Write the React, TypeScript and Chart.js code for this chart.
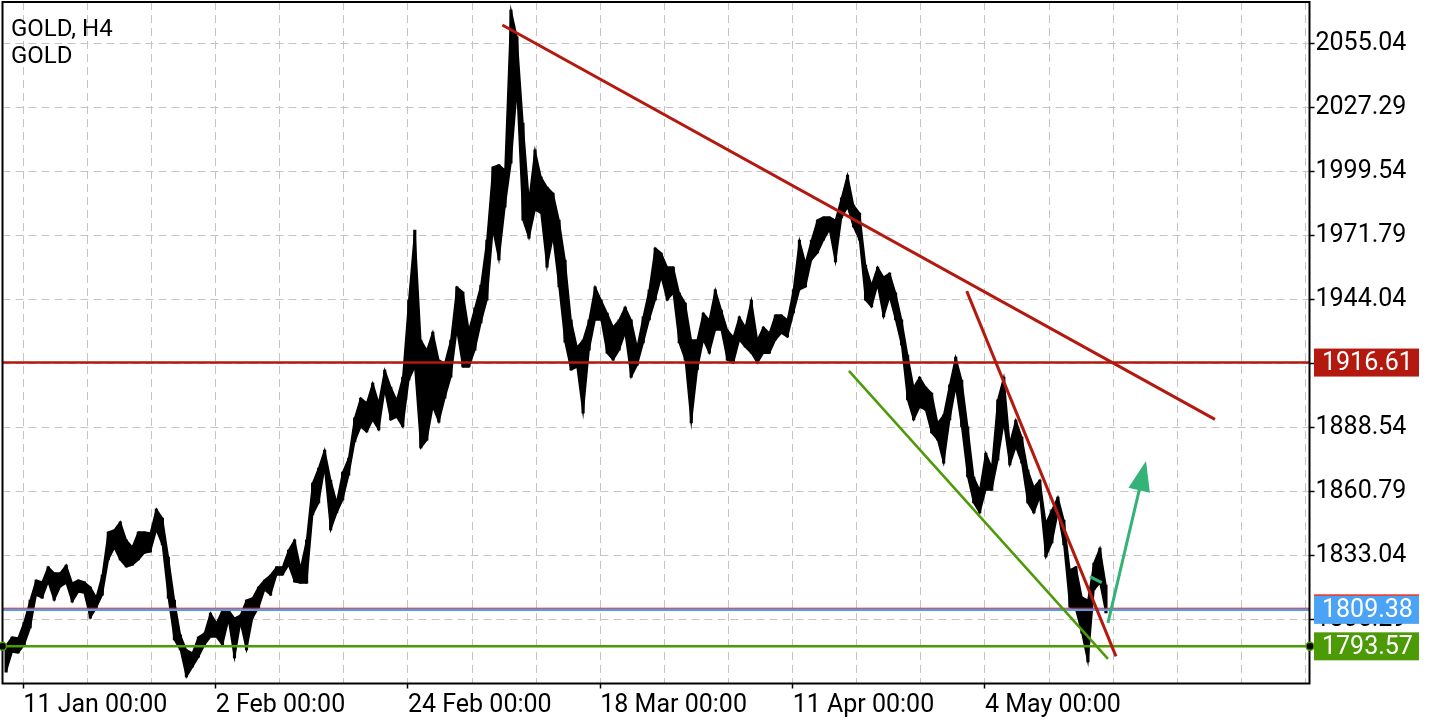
import React, { useEffect, useRef } from 'react';
import { Chart, registerables } from 'chart.js';

Chart.register(...registerables);

// ---------- DATA ----------
const symbolTitle = 'GOLD, H4';
const symbolName = 'GOLD';

// bar index 0 = "11 Jan 00:00"; each sample groups 3 H4 bars
const firstSampleBar = -8.6;
const barsPerSample = 3;

const highs = [
  1794.1, 1797.6, 1797.2, 1804.1, 1813.6, 1822.3, 1821.5, 1828.0, 1825.4, 1825.4,
  1828.8, 1821.0, 1822.3, 1821.5, 1819.3, 1814.9, 1824.5, 1843.1, 1844.0, 1847.5,
  1839.7, 1836.6, 1843.1, 1843.1, 1842.7, 1853.1, 1849.2, 1832.3, 1813.6, 1798.5,
  1792.0, 1790.7, 1797.6, 1799.3, 1808.0, 1803.7, 1809.3, 1809.3, 1805.8, 1807.1,
  1813.6, 1814.5, 1819.3, 1822.3, 1824.5, 1828.0, 1828.0, 1835.3, 1839.7, 1827.5,
  1839.7, 1864.4, 1870.9, 1878.7, 1865.7, 1856.1, 1869.1, 1875.2, 1892.6, 1901.2,
  1899.1, 1907.7, 1899.1, 1913.4, 1906.0, 1900.4, 1910.3, 1943.7, 1974.1, 1926.4,
  1922.0, 1929.8, 1917.7, 1916.4, 1926.4, 1949.4, 1947.2, 1930.7, 1940.3, 1950.2,
  1969.7, 2001.4, 2002.3, 2000.1, 2069.5, 2057.8, 2020.5, 1987.1, 2008.8, 1997.1,
  1992.7, 1990.1, 1978.4, 1961.1, 1935.1, 1923.3, 1926.4, 1935.1, 1949.4, 1943.7,
  1938.1, 1932.0, 1935.1, 1940.7, 1935.1, 1923.3, 1936.4, 1948.1, 1966.3, 1964.1,
  1958.0, 1958.0, 1946.8, 1942.4, 1926.4, 1926.4, 1938.1, 1935.1, 1948.1, 1939.4,
  1930.7, 1927.7, 1936.4, 1932.0, 1943.7, 1926.4, 1932.0, 1929.4, 1937.2, 1937.2,
  1935.1, 1948.1, 1969.7, 1959.8, 1969.7, 1978.4, 1979.7, 1979.7, 1978.4, 1988.0,
  1997.9, 1984.9, 1981.4, 1958.9, 1950.2, 1958.0, 1953.7, 1955.4, 1946.8, 1935.1,
  1919.9, 1906.0, 1910.3, 1906.0, 1903.4, 1890.4, 1893.9, 1906.9, 1919.0, 1909.0,
  1888.7, 1867.0, 1861.3, 1877.4, 1871.3, 1900.4, 1910.3, 1881.7, 1891.7, 1884.3,
  1870.0, 1862.6, 1865.7, 1847.0, 1852.7, 1858.3, 1848.3, 1826.7, 1828.0, 1814.9,
  1813.6, 1829.7, 1836.2, 1820.1,
];

const lows = [
  1782.4, 1791.1, 1790.7, 1794.1, 1801.5, 1815.8, 1814.5, 1821.5, 1813.6, 1819.3,
  1821.0, 1812.8, 1817.1, 1816.7, 1805.8, 1810.2, 1815.8, 1831.0, 1836.2, 1831.0,
  1828.0, 1828.8, 1831.0, 1834.0, 1834.5, 1844.0, 1837.5, 1814.5, 1796.3, 1792.0,
  1780.3, 1784.6, 1788.9, 1794.1, 1797.6, 1797.6, 1794.1, 1805.0, 1788.5, 1803.7,
  1792.0, 1805.8, 1810.2, 1818.0, 1815.8, 1824.5, 1824.5, 1828.8, 1821.5, 1821.0,
  1821.0, 1850.5, 1855.7, 1870.9, 1844.0, 1851.4, 1857.0, 1867.8, 1882.2, 1888.7,
  1886.5, 1891.7, 1887.4, 1904.7, 1891.7, 1893.0, 1888.7, 1909.0, 1914.7, 1879.6,
  1883.0, 1897.3, 1890.8, 1901.2, 1910.3, 1930.7, 1914.7, 1914.7, 1922.0, 1933.8,
  1943.7, 1974.1, 1961.1, 1984.0, 2003.1, 2034.8, 1978.4, 1970.6, 1982.7, 1981.4,
  1958.0, 1971.0, 1949.4, 1925.5, 1913.4, 1914.7, 1894.7, 1922.0, 1935.1, 1935.1,
  1920.7, 1917.7, 1922.0, 1929.4, 1910.3, 1915.5, 1925.1, 1935.1, 1943.7, 1953.7,
  1943.7, 1946.8, 1925.1, 1917.7, 1890.4, 1913.4, 1926.4, 1920.7, 1930.7, 1930.7,
  1917.7, 1916.4, 1926.4, 1923.3, 1920.7, 1916.4, 1920.7, 1920.7, 1926.4, 1929.4,
  1927.7, 1938.1, 1948.1, 1949.4, 1961.1, 1964.1, 1969.7, 1974.1, 1960.2, 1979.3,
  1984.0, 1975.4, 1969.7, 1943.7, 1940.7, 1950.2, 1936.4, 1945.0, 1935.1, 1924.2,
  1900.4, 1891.7, 1897.3, 1896.0, 1886.1, 1883.0, 1873.0, 1891.7, 1906.0, 1888.7,
  1867.0, 1855.7, 1851.4, 1861.3, 1861.3, 1874.3, 1890.4, 1872.2, 1880.0, 1873.0,
  1855.7, 1851.4, 1858.3, 1832.3, 1838.4, 1851.4, 1837.5, 1810.6, 1809.3, 1799.3,
  1786.8, 1818.0, 1821.0, 1808.0,
];

const dateTickBars = [0, 96, 192, 288, 384, 480];
const dateTickLabels = ['11 Jan 00:00', '2 Feb 00:00', '24 Feb 00:00', '18 Mar 00:00', '11 Apr 00:00', '4 May 00:00'];
const gridStepBars = 32;
const barMin = -10.4;
const barMax = 642;

const priceTicks = [1805.29, 1833.04, 1860.79, 1888.54, 1916.29, 1944.04, 1971.79, 1999.54, 2027.29, 2055.04];
const priceMin = 1777.45;
const priceMax = 2072.95;

const resistanceLevel = 1916.61;
const askLevel = 1810.1;
const bidLevel = 1809.38;
const supportLevel = 1793.57;

// trend objects: {bar index, price}
const trendRedLong = [{ x: 239.1, y: 2062.97 }, { x: 594.8, y: 1892.0 }];
const trendRedSteep = [{ x: 470.9, y: 1947.6 }, { x: 545.4, y: 1789.2 }];
const trendGreen = [{ x: 412.1, y: 1913.0 }, { x: 541.4, y: 1788.1 }];
const arrowUp = [{ x: 541.4, y: 1803.7 }, { x: 560.4, y: 1873.9 }];
const tealSegment = [{ x: 532.4, y: 1823.8 }, { x: 538.3, y: 1821.2 }];

// ---------- STYLE ----------
const FONT = 'Roboto';
const RED = '#b3190f';
const GREEN = '#4c9a06';
const BLUE = '#4a9ff0';
const BLUE_BOX = '#4aa3f5';
const TEAL = '#33b377';
const GRID = '#c4c4c4';
const AXIS_FONT = 25;

export default function App() {
  const ref = useRef<HTMLCanvasElement>(null);

  useEffect(() => {
    const canvas = ref.current;
    if (!canvas) return;

    const sampleBar = (k: number) => firstSampleBar + barsPerSample * k;
    const priceBars = highs.map((h, k) => ({ x: sampleBar(k), y: [lows[k], h] }));
    const highLine = highs.map((h, k) => ({ x: sampleBar(k), y: h }));
    const lowLine = lows.map((l, k) => ({ x: sampleBar(k), y: l }));
    const hLine = (v: number) => [{ x: barMin, y: v }, { x: barMax, y: v }];
    const lineDs = (data: any[], color: string, width: number, order: number) => ({
      type: 'line' as const,
      data,
      borderColor: color,
      borderWidth: width,
      pointRadius: 0,
      fill: false,
      tension: 0,
      order,
      borderCapStyle: 'butt' as const,
    });

    const overlay = {
      id: 'overlay',
      afterDatasetsDraw(chart: any) {
        const { ctx, scales } = chart;
        const xs = scales.x;
        const ys = scales.y;
        const x1 = xs.getPixelForValue(arrowUp[0].x);
        const y1 = ys.getPixelForValue(arrowUp[0].y);
        const x2 = xs.getPixelForValue(arrowUp[1].x);
        const y2 = ys.getPixelForValue(arrowUp[1].y);
        const len = Math.hypot(x2 - x1, y2 - y1);
        const ux = (x2 - x1) / len;
        const uy = (y2 - y1) / len;
        const headLen = 30;
        const headHalf = 11;
        const bx = x2 - ux * headLen;
        const by = y2 - uy * headLen;
        ctx.save();
        ctx.strokeStyle = TEAL;
        ctx.lineWidth = 3;
        ctx.beginPath();
        ctx.moveTo(x1, y1);
        ctx.lineTo(bx + ux * 2, by + uy * 2);
        ctx.stroke();
        ctx.fillStyle = TEAL;
        ctx.beginPath();
        ctx.moveTo(x2, y2);
        ctx.lineTo(bx - uy * headHalf, by + ux * headHalf);
        ctx.lineTo(bx + uy * headHalf, by - ux * headHalf);
        ctx.closePath();
        ctx.fill();
        ctx.restore();
      },
      afterDraw(chart: any) {
        const { ctx, chartArea, scales } = chart;
        const ys = scales.y;
        ctx.save();
        ctx.strokeStyle = '#000';
        ctx.lineWidth = 2;
        ctx.strokeRect(chartArea.left, chartArea.top, chartArea.right - chartArea.left, chartArea.bottom - chartArea.top);

        const gy = ys.getPixelForValue(supportLevel);
        [chartArea.left, chartArea.right + 0.5].forEach((cx) => {
          ctx.beginPath();
          ctx.arc(cx, gy, 4, 0, Math.PI * 2);
          ctx.fillStyle = '#000';
          ctx.fill();
          ctx.lineWidth = 1.5;
          ctx.strokeStyle = GREEN;
          ctx.stroke();
        });

        const boxLeft = chartArea.right + 4.5;
        const boxW = 105;
        const boxH = 28;
        const drawBox = (price: number, color: string) => {
          const py = ys.getPixelForValue(price);
          ctx.fillStyle = color;
          ctx.fillRect(boxLeft, py - boxH / 2, boxW, boxH);
          ctx.fillStyle = '#fff';
          ctx.font = `${AXIS_FONT}px ${FONT}`;
          ctx.textBaseline = 'middle';
          ctx.textAlign = 'left';
          ctx.fillText(price.toFixed(2), boxLeft + 8, py + 1);
          return py;
        };
        drawBox(resistanceLevel, RED);
        const by = drawBox(bidLevel, BLUE_BOX);
        ctx.fillStyle = '#e8241c';
        ctx.fillRect(boxLeft, by - boxH / 2 - 1.5, boxW, 1.5);
        drawBox(supportLevel, GREEN);

        ctx.fillStyle = '#000';
        ctx.font = `24px ${FONT}`;
        ctx.textBaseline = 'alphabetic';
        ctx.textAlign = 'left';
        ctx.fillText(symbolTitle, 11, 36);
        ctx.fillText(symbolName, 11, 63);
        ctx.restore();
      },
    };

    const chart = new Chart(canvas, {
      type: 'bar',
      data: {
        datasets: [
          lineDs(tealSegment, TEAL, 3, 0),
          lineDs(trendRedLong, RED, 3, 1),
          lineDs(trendRedSteep, RED, 3, 1),
          lineDs(trendGreen, GREEN, 2.5, 1),
          lineDs(hLine(resistanceLevel), RED, 2.5, 2),
          lineDs(hLine(askLevel), '#e8241c', 1, 2),
          lineDs(hLine(bidLevel), BLUE, 2.5, 2),
          lineDs(hLine(supportLevel), GREEN, 2.5, 2),
          { ...lineDs(highLine, '#000', 1.5, 5), fill: '+1', backgroundColor: '#000' },
          lineDs(lowLine, '#000', 1.5, 5),
          {
            type: 'bar' as const,
            data: priceBars as any,
            backgroundColor: '#000',
            borderWidth: 0,
            borderSkipped: false,
            barThickness: 2.5,
            order: 6,
          },
        ] as any,
      },
      options: {
        responsive: false,
        devicePixelRatio: 1,
        animation: false,
        events: [],
        layout: { padding: { left: 2.5, top: 2, right: 0, bottom: 0 } },
        plugins: { legend: { display: false }, tooltip: { enabled: false } },
        scales: {
          x: {
            type: 'linear',
            min: barMin,
            max: barMax,
            offset: false,
            afterBuildTicks: (s: any) => {
              const t = [];
              for (let v = 0; v <= barMax; v += gridStepBars) t.push({ value: v });
              s.ticks = t;
            },
            afterFit: (s: any) => {
              s.height = 36.5;
              s.paddingLeft = 0;
              s.paddingRight = 0;
              s.paddingTop = 0;
              s.paddingBottom = 0;
            },
            ticks: {
              autoSkip: false,
              maxRotation: 0,
              minRotation: 0,
              align: 'start',
              padding: 5,
              color: '#000',
              font: { family: FONT, size: AXIS_FONT, lineHeight: 1 },
              callback: (v: any) => {
                const i = dateTickBars.indexOf(Number(v));
                return i >= 0 ? dateTickLabels[i] : '';
              },
            },
            grid: {
              offset: false,
              color: GRID,
              lineWidth: 1,
              tickLength: 5,
              tickWidth: 1.5,
              tickColor: (c: any) => (c.tick && dateTickBars.includes(c.tick.value) ? '#000' : 'rgba(0,0,0,0)'),
            },
            border: { display: false, dash: [8, 5] },
          },
          y: {
            type: 'linear',
            position: 'right',
            min: priceMin,
            max: priceMax,
            afterBuildTicks: (s: any) => {
              s.ticks = priceTicks.map((v) => ({ value: v }));
            },
            afterFit: (s: any) => {
              s.width = 130.5;
              s.paddingLeft = 0;
              s.paddingRight = 0;
              s.paddingTop = 0;
              s.paddingBottom = 0;
            },
            ticks: {
              padding: 1,
              color: '#000',
              font: { family: FONT, size: AXIS_FONT },
              callback: (v: any) => Number(v).toFixed(2),
            },
            grid: {
              color: GRID,
              lineWidth: 1,
              tickLength: 5,
              tickWidth: 1.5,
              tickColor: '#000',
            },
            border: { display: false, dash: [8, 5] },
          },
        },
      } as any,
      plugins: [overlay],
    });

    return () => chart.destroy();
  }, []);

  return (
    <div style={{ position: 'fixed', left: 0, top: 0, width: 1440, height: 720, background: '#fff' }}>
      <canvas ref={ref} width={1440} height={720} style={{ display: 'block', width: 1440, height: 720 }} />
    </div>
  );
}
